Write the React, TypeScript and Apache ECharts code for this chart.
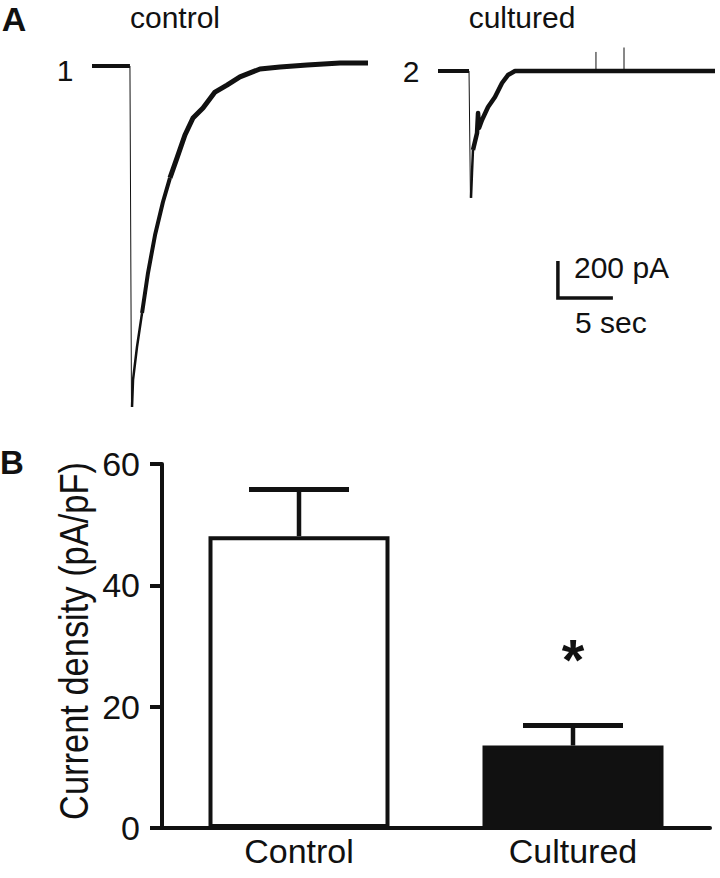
import React, { useEffect, useRef } from "react";
import * as echarts from "echarts";

// ---------- Panel A: whole-cell current traces (time in s, current in pA) ----------
const controlBaseline: number[][] = [[0, 0], [3.45, 0]];
const controlOnset: number[][] = [[3.45, 0], [3.59, -1843]];
const controlDecay: number[][] = [
  [3.64, -1843], [3.73, -1697], [4.09, -1519], [4.55, -1335], [5.09, -1119],
  [5.73, -914], [6.45, -735], [7.09, -605], [7.73, -497], [8.45, -373],
  [9.18, -281], [10.09, -227], [11.18, -141], [12.27, -103], [13.45, -59],
  [15.27, -16], [17.09, -5], [19.55, 5], [22.55, 16], [25.09, 16],
];

const culturedBaseline: number[][] = [[0, 0], [2.82, 0]];
const culturedOnset: number[][] = [[2.82, 0], [2.95, -686]];
const culturedDecay: number[][] = [
  [3.0, -686], [3.09, -551], [3.18, -427], [3.55, -335], [3.64, -227],
  [3.73, -308], [4.0, -265], [4.55, -195], [5.18, -141], [5.82, -65],
  [6.36, -22], [7.0, 0], [25.18, 0],
];
const culturedSpikes: number[][] = [[14.36, 103], [16.91, 127]];

// scale bar (drawn in the cultured trace's coordinates)
const scaleBarOrigin: number[] = [10.9, -1227];
const scaleBarCurrent = 200; // pA
const scaleBarTime = 5; // s

// ---------- Panel B: current density ----------
const categories = ["Control", "Cultured"];
const meanDensity = [48.1, 13.6];
const semDensity = [7.7, 3.3];
const significance = ["", "*"];
const densityTicks = [0, 20, 40, 60];

// ---------- layout constants ----------
const PX_PER_S = 11;
const PX_PER_PA = 0.185;
const T_MAX = 25.2;
const FONT = "'Liberation Sans', Arial, Helvetica, sans-serif";
const INK = "#111";

export default function App() {
  const ref = useRef<HTMLDivElement>(null);

  useEffect(() => {
    document.body.style.margin = "0";
    const chart = echarts.init(ref.current!, null, { renderer: "svg" });

    const g1 = { yMin: -1900, yMax: 50, left: 92, base: 66 };
    const g2 = { yMin: -1300, yMax: 150, left: 438, base: 71 };
    const gridFor = (g: any) => ({
      left: g.left,
      top: g.base - g.yMax * PX_PER_PA,
      width: T_MAX * PX_PER_S,
      height: (g.yMax - g.yMin) * PX_PER_PA,
    });

    const line = (data: number[][], xi: number, width: number) => ({
      type: "line",
      xAxisIndex: xi,
      yAxisIndex: xi,
      data,
      symbol: "none",
      silent: true,
      lineStyle: { color: INK, width, join: "round", cap: "butt" },
      z: 3,
    });

    const [sx, sy] = scaleBarOrigin;
    const txt = (x: number, y: number, text: string, size: number, extra: any = {}) => ({
      type: "text",
      x,
      y,
      style: {
        text,
        fill: INK,
        fontSize: size,
        fontFamily: FONT,
        align: "center",
        verticalAlign: "middle",
        ...extra,
      },
    });

    const option: any = {
      animation: false,
      backgroundColor: "#fff",
      grid: [
        gridFor(g1),
        gridFor(g2),
        { left: 162, right: 10, top: 464, bottom: 50 },
      ],
      xAxis: [
        { type: "value", gridIndex: 0, min: 0, max: T_MAX, show: false },
        { type: "value", gridIndex: 1, min: 0, max: T_MAX, show: false },
        {
          type: "category",
          gridIndex: 2,
          data: categories,
          axisLine: { lineStyle: { color: INK, width: 4 } },
          axisTick: { alignWithLabel: true, length: 10, lineStyle: { color: INK, width: 4 } },
          axisLabel: { color: INK, fontSize: 34, fontFamily: FONT, margin: 6 },
        },
      ],
      yAxis: [
        { type: "value", gridIndex: 0, min: g1.yMin, max: g1.yMax, show: false },
        { type: "value", gridIndex: 1, min: g2.yMin, max: g2.yMax, show: false },
        {
          type: "value",
          gridIndex: 2,
          min: densityTicks[0],
          max: densityTicks[densityTicks.length - 1],
          interval: densityTicks[1] - densityTicks[0],
          axisLine: { show: true, lineStyle: { color: INK, width: 4 } },
          axisTick: { show: true, length: 12, lineStyle: { color: INK, width: 4 } },
          axisLabel: { color: INK, fontSize: 34, fontFamily: FONT, margin: 22 },
          splitLine: { show: false },
        },
      ],
      series: [
        line(controlBaseline, 0, 4),
        line(controlOnset, 0, 1),
        line(controlDecay.slice(0, 4), 0, 2.5),
        line(controlDecay.slice(3, 8), 0, 4),
        line(controlDecay.slice(7), 0, 5),
        line(culturedBaseline, 1, 4),
        line(culturedOnset, 1, 1),
        line(culturedDecay.slice(0, 3), 1, 2.5),
        line(culturedDecay.slice(2), 1, 4.5),
        ...culturedSpikes.map((s) => line([[s[0], 0], [s[0], s[1]]], 1, 1)),
        {
          ...line(
            [
              [sx, sy + scaleBarCurrent],
              [sx, sy],
              [sx + scaleBarTime, sy],
            ],
            1,
            3
          ),
          lineStyle: { color: INK, width: 3.5, join: "miter", cap: "butt" },
        },
        {
          type: "bar",
          xAxisIndex: 2,
          yAxisIndex: 2,
          barWidth: 181,
          silent: true,
          data: meanDensity.map((v, i) => ({
            value: v,
            itemStyle: { color: i === 0 ? "#ffffff" : INK },
          })),
          itemStyle: { borderColor: INK, borderWidth: 4 },
        },
        {
          type: "custom",
          xAxisIndex: 2,
          yAxisIndex: 2,
          silent: true,
          z: 5,
          data: meanDensity.map((m, i) => [i, m, m + semDensity[i]]),
          renderItem: (params: any, api: any) => {
            const x = api.value(0);
            const p0 = api.coord([x, api.value(1)]);
            const p1 = api.coord([x, api.value(2)]);
            const children: any[] = [
              {
                type: "line",
                shape: { x1: p0[0], y1: p0[1], x2: p1[0], y2: p1[1] },
                style: { stroke: INK, lineWidth: 4.5 },
              },
              {
                type: "line",
                shape: { x1: p1[0] - 50, y1: p1[1], x2: p1[0] + 50, y2: p1[1] },
                style: { stroke: INK, lineWidth: 5 },
              },
            ];
            const sig = significance[params.dataIndex];
            if (sig) {
              children.push({
                type: "text",
                x: p1[0],
                y: p1[1] - 66,
                style: {
                  text: sig,
                  fill: INK,
                  fontSize: 58,
                  fontWeight: "bold",
                  fontFamily: FONT,
                  align: "center",
                  verticalAlign: "middle",
                },
              });
            }
            return { type: "group", children };
          },
        },
      ],
      graphic: [
        txt(14, 19, "A", 34, { fontWeight: "bold" }),
        txt(12, 462, "B", 33, { fontWeight: "bold" }),
        txt(175, 17, "control", 30),
        txt(522, 17, "cultured", 30),
        txt(65, 70, "1", 30),
        txt(411, 71, "2", 30),
        txt(574, 267, "200 pA", 30, { align: "left" }),
        txt(575, 322, "5 sec", 30, { align: "left" }),
        {
          ...txt(74, 641, "Current density (pA/pF)", 41),
          rotation: Math.PI / 2,
          scaleX: 0.84,
        },
      ],
    };

    chart.setOption(option);
    return () => chart.dispose();
  }, []);

  return (
    <div
      ref={ref}
      style={{ position: "fixed", left: 0, top: 0, width: 720, height: 878, background: "#fff" }}
    />
  );
}
